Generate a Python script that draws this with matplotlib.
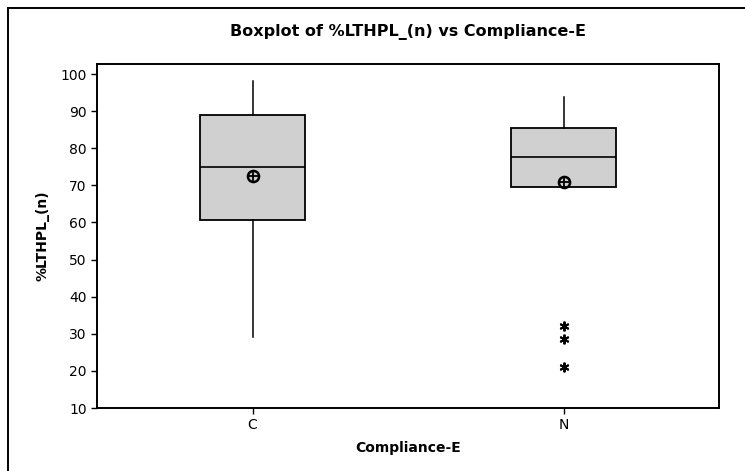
import matplotlib
matplotlib.use("Agg")
from matplotlib import pyplot as plt
from matplotlib.lines import Line2D

# values
groups = ["C", "N"]
q1 = [60.7, 69.6]
median = [75.0, 77.6]
q3 = [89.0, 85.5]
whisker_lo = [29.0, 69.6]
whisker_hi = [98.0, 93.8]
means = [72.5, 71.0]
outliers = [[], [32.1, 28.6, 21.0]]

yticks = [10, 20, 30, 40, 50, 60, 70, 80, 90, 100]

stats = []
for i, name in enumerate(groups):
    stats.append(dict(label=name, q1=q1[i], med=median[i], q3=q3[i],
                      whislo=whisker_lo[i], whishi=whisker_hi[i],
                      mean=means[i], fliers=outliers[i]))

fig = plt.figure(figsize=(7.45, 4.71), dpi=100)
ax = fig.add_axes([97 / 745, 1 - 408 / 471, 622 / 745, 344 / 471])

ax.bxp(stats, positions=[1, 2], widths=0.34, patch_artist=True,
       showmeans=False, showcaps=False,
       boxprops=dict(facecolor="#d0d0d0", edgecolor="black", linewidth=1.3),
       medianprops=dict(color="black", linewidth=1.2),
       whiskerprops=dict(color="black", linewidth=1.1),
       flierprops=dict(marker=(6, 2, 0), markersize=7, markeredgecolor="black",
                       markeredgewidth=1.4, linestyle="none"))

# mean symbol: circle with a cross
ax.plot([1, 2], means, linestyle="none", marker="o", markersize=8,
        markerfacecolor="none", markeredgecolor="black", markeredgewidth=1.8)
ax.plot([1, 2], means, linestyle="none", marker="+", markersize=8,
        markeredgecolor="black", markeredgewidth=1.3)

ax.set_xlim(0.5, 2.5)
ax.set_ylim(10, 102.7)
ax.set_yticks(yticks)
ax.set_xticks([1, 2])
ax.set_xticklabels(groups)
ax.tick_params(labelsize=10, length=4, width=1)
for s in ax.spines.values():
    s.set_linewidth(1.4)

ax.set_xlabel("Compliance-E", fontsize=10, fontweight="bold", labelpad=6)
ax.set_ylabel("%LTHPL_(n)", fontsize=10, fontweight="bold", labelpad=8)
fig.suptitle("Boxplot of %LTHPL_(n) vs Compliance-E", fontsize=11.5,
             fontweight="bold", x=(97 + 719) / 2 / 745, y=1 - 32 / 471, va="center")

# outer frame (top and left edges)
fig.add_artist(Line2D([8 / 745, 1], [1 - 8 / 471, 1 - 8 / 471],
                      transform=fig.transFigure, color="black", linewidth=1.4))
fig.add_artist(Line2D([8 / 745, 8 / 745], [0, 1 - 8 / 471],
                      transform=fig.transFigure, color="black", linewidth=1.4))

fig.savefig("out.png", dpi=100)
